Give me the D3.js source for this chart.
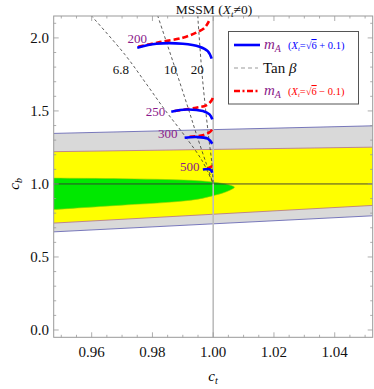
<!DOCTYPE html>
<html>
<head>
<meta charset="utf-8">
<script src="https://cdn.jsdelivr.net/npm/d3@7"></script>
<style>
  body { margin: 0; background: #fff; }
  svg, svg text { font-family: "Liberation Serif", "DejaVu Serif", serif; }
  svg { display: block; }
</style>
</head>
<body>
<script>
// axis ticks
const xTicks = [0.96, 0.98, 1.00, 1.02, 1.04];
const yTicks = [0.0, 0.5, 1.0, 1.5, 2.0];

// allowed regions (ct, cb)
const grayUpper = [[0.9475, 1.346], [1.0525, 1.398]];
const grayLower = [[0.9475, 0.672], [1.0525, 0.782]];
const yellowUpper = [[0.9475, 1.221], [1.0525, 1.252]];
const yellowLower = [[0.9475, 0.732], [1.0525, 0.853]];
const greenUpper = [[0.94, 1.042], [0.9475, 1.040], [0.97, 1.036], [0.985, 1.030], [0.995, 1.022], [1.001, 1.010], [1.005, 0.995], [1.007, 0.978]];
const greenLower = [[1.0055, 0.957], [1.003, 0.937], [1.0, 0.920], [0.995, 0.896], [0.985, 0.874], [0.97, 0.855], [0.9475, 0.825], [0.94, 0.815]];

// tan beta contours
const tanBetaValues = ["6.8", "10", "20"];
const tanBetaLines = [
  [[0.9598, 2.154], [0.9709, 1.887], [0.9781, 1.682], [0.9840, 1.510], [0.9903, 1.339], [0.9965, 1.154], [1.0, 1.0]],
  [[0.9817, 2.154], [0.9876, 1.784], [0.9919, 1.510], [0.9945, 1.339], [0.9978, 1.134], [1.0, 1.0]],
  [[0.9949, 2.154], [0.9962, 1.784], [0.9975, 1.510], [0.9986, 1.305], [0.9996, 1.134], [1.0, 1.0]]
];

// m_A contours
const mAValues = [200, 250, 300, 500];
const mAPlus = [
  [[0.9750, 1.933], [0.9813, 1.960], [0.9900, 1.960], [0.9955, 1.940], [0.9982, 1.910], [0.9995, 1.858]],
  [[0.9862, 1.495], [0.9912, 1.510], [0.9966, 1.499], [0.9988, 1.476], [0.9997, 1.442]],
  [[0.9906, 1.316], [0.9944, 1.321], [0.9982, 1.310], [0.9997, 1.275]],
  [[0.9966, 1.099], [0.9990, 1.099], [0.9997, 1.077]]
];
const mAMinus = [
  [[0.9753, 1.940], [0.9824, 1.971], [0.9900, 2.001], [0.9944, 2.036], [0.9972, 2.070], [0.9986, 2.115]],
  [[0.9873, 1.499], [0.9944, 1.522], [0.9977, 1.538], [0.9993, 1.567], [0.9999, 1.590]],
  [[0.9922, 1.323], [0.9961, 1.332], [0.9986, 1.351], [0.9997, 1.373]],
  [[0.9982, 1.106], [0.9997, 1.122]]
];

const W = 374, H = 389;
const FONT = "'Liberation Serif', 'DejaVu Serif', serif";
const x = d3.scaleLinear().domain([0.9475, 1.0525]).range([53.7, 372.7]);
const y = d3.scaleLinear().domain([-0.05, 2.15]).range([337.3, 16]);

const purple = "#8a1a8a";

const svg = d3.select("body").append("svg")
  .attr("width", W).attr("height", H)
  .attr("font-family", FONT);

svg.append("clipPath").attr("id", "plot")
  .append("rect")
  .attr("x", x.range()[0]).attr("y", y.range()[1])
  .attr("width", x.range()[1] - x.range()[0])
  .attr("height", y.range()[0] - y.range()[1]);

const g = svg.append("g").attr("clip-path", "url(#plot)");

function band(upper, lower) {
  return d3.line().x(d => x(d[0])).y(d => y(d[1]))(upper.concat(lower.slice().reverse())) + "Z";
}

g.append("path").attr("d", band(grayUpper, grayLower))
  .attr("fill", "#d9d9d9").attr("stroke", "none");
g.append("path").attr("d", band(yellowUpper, yellowLower))
  .attr("fill", "#ffff00").attr("stroke", "none");

[grayUpper, grayLower].forEach(l => g.append("path")
  .attr("d", d3.line().x(d => x(d[0])).y(d => y(d[1]))(l))
  .attr("stroke", "#6a6ab4").attr("stroke-width", 0.9).attr("fill", "none"));
[yellowUpper, yellowLower].forEach(l => g.append("path")
  .attr("d", d3.line().x(d => x(d[0])).y(d => y(d[1]))(l))
  .attr("stroke", "#b2708a").attr("stroke-width", 0.8).attr("fill", "none"));

g.append("path")
  .attr("d", d3.line().x(d => x(d[0])).y(d => y(d[1])).curve(d3.curveCatmullRomClosed)(greenUpper.concat(greenLower)))
  .attr("fill", "#00e800").attr("stroke", "#9ad000").attr("stroke-width", 0.6);

// reference lines
g.append("line")
  .attr("x1", x.range()[0]).attr("x2", x.range()[1])
  .attr("y1", y(1)).attr("y2", y(1))
  .attr("stroke", "#333").attr("stroke-width", 0.9);
g.append("line")
  .attr("x1", x(1)).attr("x2", x(1))
  .attr("y1", y.range()[0]).attr("y2", y.range()[1])
  .attr("stroke", "#bdbdbd").attr("stroke-width", 1.6);

// tan beta
const curve = d3.line().x(d => x(d[0])).y(d => y(d[1])).curve(d3.curveCatmullRom);
tanBetaLines.forEach(l => g.append("path")
  .attr("d", curve(l))
  .attr("fill", "none").attr("stroke", "#333")
  .attr("stroke-width", 0.8).attr("stroke-dasharray", "3,2.5"));

// label sits left of its contour at cb = 1.784
const tanLabelCb = 1.784;
const tanLabelShift = [15, 5, 4.5];
tanBetaLines.forEach((l, i) => {
  let px = x(l[0][0]);
  for (let k = 1; k < l.length; k++) {
    if (l[k][1] <= tanLabelCb) {
      const t = (l[k - 1][1] - tanLabelCb) / (l[k - 1][1] - l[k][1]);
      px = x(l[k - 1][0] + t * (l[k][0] - l[k - 1][0]));
      break;
    }
  }
  svg.append("text")
    .attr("x", px - tanLabelShift[i]).attr("y", y(tanLabelCb))
    .attr("text-anchor", "middle").attr("dominant-baseline", "central")
    .attr("font-family", FONT)
    .style("font-size", "13px").attr("fill", "#111")
    .text(tanBetaValues[i]);
});

// m_A curves
mAMinus.forEach(l => g.append("path")
  .attr("d", curve(l))
  .attr("fill", "none").attr("stroke", "#ff0000")
  .attr("stroke-width", 2.6).attr("stroke-dasharray", "6,3"));
mAPlus.forEach(l => g.append("path")
  .attr("d", curve(l))
  .attr("fill", "none").attr("stroke", "#0000ff")
  .attr("stroke-width", 2.6));

const mALabelShift = [[0, -9], [-15.7, 0], [-17, -4], [-13, -3]];
mAPlus.forEach((l, i) => {
  svg.append("text")
    .attr("x", x(l[0][0]) + mALabelShift[i][0])
    .attr("y", y(l[0][1]) + mALabelShift[i][1])
    .attr("text-anchor", "middle").attr("dominant-baseline", "central")
    .attr("font-family", FONT)
    .style("font-size", "13px").attr("fill", purple)
    .text(mAValues[i]);
});

// frame and ticks
const frame = svg.append("g");
frame.append("rect")
  .attr("x", x.range()[0]).attr("y", y.range()[1])
  .attr("width", x.range()[1] - x.range()[0])
  .attr("height", y.range()[0] - y.range()[1])
  .attr("fill", "none").attr("stroke", "#999").attr("stroke-width", 1);

const xMinor = d3.range(0.95, 1.051, 0.005).filter(v => !xTicks.some(t => Math.abs(t - v) < 1e-6));
const yMinor = d3.range(0, 2.11, 0.1).filter(v => !yTicks.some(t => Math.abs(t - v) < 1e-6));

function xTick(v, len) {
  [[y.range()[0], -len], [y.range()[1], len]].forEach(([yy, d]) =>
    frame.append("line").attr("x1", x(v)).attr("x2", x(v))
      .attr("y1", yy).attr("y2", yy + d)
      .attr("stroke", "#999").attr("stroke-width", 0.8));
}
function yTick(v, len) {
  [[x.range()[0], len], [x.range()[1], -len]].forEach(([xx, d]) =>
    frame.append("line").attr("y1", y(v)).attr("y2", y(v))
      .attr("x1", xx).attr("x2", xx + d)
      .attr("stroke", "#999").attr("stroke-width", 0.8));
}
xTicks.forEach(v => xTick(v, 5));
xMinor.forEach(v => xTick(v, 2.5));
yTicks.forEach(v => yTick(v, 5));
yMinor.forEach(v => yTick(v, 2.5));

xTicks.forEach(v => svg.append("text")
  .attr("x", x(v)).attr("y", 357)
  .attr("text-anchor", "middle").attr("font-family", FONT)
  .style("font-size", "15px").attr("fill", "#111")
  .text(d3.format(".2f")(v)));
yTicks.forEach(v => svg.append("text")
  .attr("x", 49).attr("y", y(v))
  .attr("text-anchor", "end").attr("dominant-baseline", "central")
  .attr("font-family", FONT)
  .style("font-size", "15px").attr("fill", "#111")
  .text(d3.format(".1f")(v)));

// axis titles
const xt = svg.append("text").attr("x", 213).attr("y", 381)
  .attr("text-anchor", "middle").attr("font-family", FONT).style("font-size", "15px");
xt.append("tspan").style("font-style", "italic").text("c");
xt.append("tspan").attr("dy", 3).style("font-size", "10px").style("font-style", "italic").text("t");

const yt = svg.append("text")
  .attr("transform", `translate(19,${y(1)}) rotate(-90)`)
  .attr("text-anchor", "middle").attr("font-family", FONT).style("font-size", "15px");
yt.append("tspan").style("font-style", "italic").text("c");
yt.append("tspan").attr("dy", 3).style("font-size", "10px").style("font-style", "italic").text("b");

const title = svg.append("text").attr("x", 214).attr("y", 14)
  .attr("text-anchor", "middle").attr("font-family", FONT)
  .style("font-size", "13.5px").attr("fill", "#111");
title.append("tspan").text("MSSM (");
title.append("tspan").style("font-style", "italic").text("X");
title.append("tspan").attr("dy", 2.5).style("font-size", "9px").style("font-style", "italic").text("t");
title.append("tspan").attr("dy", -2.5).text("\u22600)");

// legend
const lg = svg.append("g");
lg.append("rect").attr("x", 228.5).attr("y", 31.5).attr("width", 130).attr("height", 72.5)
  .attr("fill", "#fff").attr("stroke", "#555").attr("stroke-width", 1);

function mALabel(yy, color, sign) {
  const t = lg.append("text").attr("x", 264).attr("y", yy + 4)
    .attr("font-family", FONT).style("font-size", "15px");
  t.append("tspan").attr("fill", purple).style("font-style", "italic").text("m");
  t.append("tspan").attr("fill", purple).attr("dy", 3).style("font-size", "10px").style("font-style", "italic").text("A");
  const s = lg.append("text").attr("x", 288).attr("y", yy + 4)
    .attr("font-family", FONT).style("font-size", "10.5px").attr("fill", color);
  s.append("tspan").text("(");
  s.append("tspan").style("font-style", "italic").text("X");
  s.append("tspan").attr("dy", 2).style("font-size", "6.5px").style("font-style", "italic").text("t");
  s.append("tspan").attr("dy", -2).text("=\u221a");
  s.append("tspan").style("text-decoration", "overline").text("6");
  s.append("tspan").text(" " + sign + " 0.1)");
}

lg.append("line").attr("x1", 234).attr("x2", 260).attr("y1", 45).attr("y2", 45)
  .attr("stroke", "#0000ff").attr("stroke-width", 2.6);
mALabel(45, "#0000ff", "+");

lg.append("line").attr("x1", 234).attr("x2", 258).attr("y1", 68).attr("y2", 68)
  .attr("stroke", "#999").attr("stroke-width", 1.2).attr("stroke-dasharray", "4,3");
const tb = lg.append("text").attr("x", 263).attr("y", 73)
  .attr("font-family", FONT).style("font-size", "15px").attr("fill", "#111");
tb.append("tspan").text("Tan ");
tb.append("tspan").style("font-style", "italic").text("\u03b2");

lg.append("line").attr("x1", 234).attr("x2", 260).attr("y1", 91).attr("y2", 91)
  .attr("stroke", "#ff0000").attr("stroke-width", 2.6).attr("stroke-dasharray", "6,2.5,2,2.5");
mALabel(91, "#ff0000", "\u2212");
</script>
</body>
</html>
